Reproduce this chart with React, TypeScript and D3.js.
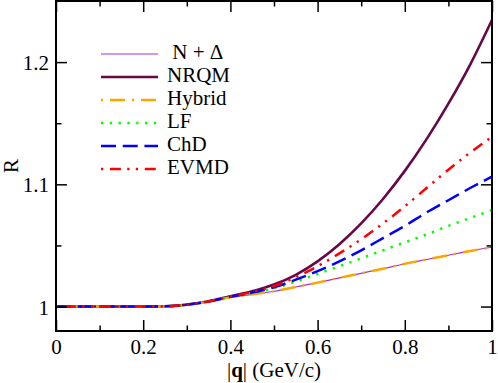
import React, { useEffect, useRef } from "react";
import * as d3 from "d3";

// |q| in GeV/c
const qValues = [0, 0.1, 0.2, 0.25, 0.3, 0.35, 0.4, 0.45, 0.5, 0.55, 0.6, 0.65, 0.7, 0.75, 0.8, 0.85, 0.9, 0.95, 1];

const nDelta = [1, 1, 1, 1.0002, 1.0015, 1.004, 1.0075, 1.01, 1.0125, 1.016, 1.0196, 1.0235, 1.0272, 1.031, 1.035, 1.0385, 1.042, 1.0455, 1.0485];
const nrqm = [1, 1, 1, 1.0002, 1.0016, 1.0044, 1.0085, 1.0125, 1.018, 1.026, 1.037, 1.051, 1.068, 1.088, 1.111, 1.137, 1.166, 1.198, 1.2345];
const hybrid = [1, 1, 1, 1.0002, 1.0015, 1.004, 1.0075, 1.01, 1.0125, 1.016, 1.0196, 1.0235, 1.0272, 1.031, 1.035, 1.0385, 1.042, 1.0455, 1.0485];
const lf = [1, 1, 1, 1.0002, 1.0015, 1.0042, 1.008, 1.0112, 1.015, 1.0205, 1.0267, 1.033, 1.0395, 1.046, 1.0525, 1.059, 1.066, 1.0725, 1.079];
const chd = [1, 1, 1, 1.0002, 1.0015, 1.0042, 1.008, 1.0115, 1.0158, 1.022, 1.029, 1.037, 1.046, 1.056, 1.066, 1.077, 1.087, 1.097, 1.1063];
const evmd = [1, 1, 1, 1.0002, 1.0015, 1.0042, 1.0082, 1.012, 1.0168, 1.024, 1.033, 1.0435, 1.055, 1.068, 1.082, 1.097, 1.112, 1.126, 1.139];

const seriesNames = ["\u00a0N + \u0394", "NRQM", "Hybrid", "LF", "ChD", "EVMD"];
const seriesValues = [nDelta, nrqm, hybrid, lf, chd, evmd];

const xMajor = [0, 0.2, 0.4, 0.6, 0.8, 1];
const xMinor = [0.1, 0.3, 0.5, 0.7, 0.9];
const yMajor = [1, 1.1, 1.2];
const yMinor = [1.05, 1.15];

const styles = [
  { color: "#a033e0", width: 1.2, dash: null, offset: 0 },
  { color: "#670748", width: 2.6, dash: null, offset: 0 },
  { color: "#ffa500", width: 2.5, dash: "2,7,15,7", offset: 0 },
  { color: "#00ff00", width: 2.5, dash: "2.3,6.5", offset: 0 },
  { color: "#0000ff", width: 2.5, dash: "15,6.7", offset: 0 },
  { color: "#ff0000", width: 2.5, dash: "11,6.3,2.3,6.3,2.3,6.7", offset: 26 },
];

const W = 498;
const H = 383;
const plot = { left: 56, right: 492, top: 1, bottom: 331 };
const font = "Liberation Serif, Times New Roman, DejaVu Serif, serif";

export default function App() {
  const ref = useRef<SVGSVGElement>(null);

  useEffect(() => {
    const svg = d3.select(ref.current);
    svg.selectAll("*").remove();

    const x = d3.scaleLinear().domain([0, 1]).range([plot.left, plot.right]);
    const y = d3.scaleLinear().domain([0.98, 1.25]).range([plot.bottom, plot.top]);

    // curves
    const line = d3.line<number>()
      .x((d, i) => x(qValues[i]))
      .y(d => y(d))
      .curve(d3.curveMonotoneX);

    seriesValues.forEach((vals, k) => {
      const s = styles[k];
      svg.append("path")
        .attr("d", line(vals))
        .attr("fill", "none")
        .attr("stroke", s.color)
        .attr("stroke-width", s.width)
        .attr("stroke-dasharray", s.dash)
        .attr("stroke-dashoffset", s.offset);
    });

    // axes, ticks inward on all four sides
    const addAxis = (axis, transform, labels) => {
      const g = svg.append("g")
        .attr("transform", transform)
        .call(axis)
        .attr("font-family", font)
        .attr("font-size", 21);
      g.select(".domain").remove();
      g.selectAll("line").attr("stroke", "#000").attr("stroke-width", 1.5);
      if (!labels) g.selectAll("text").remove();
      return g;
    };

    const fmt = d => String(d);

    const bottom = addAxis(
      d3.axisBottom(x).tickValues(xMajor).tickFormat(fmt).tickSizeInner(-11).tickSizeOuter(0),
      `translate(0,${plot.bottom})`, true);
    bottom.selectAll("text")
      .attr("y", 23).attr("dy", 0).attr("fill", "#000");
    addAxis(d3.axisBottom(x).tickValues(xMinor).tickSizeInner(-5.5).tickSizeOuter(0), `translate(0,${plot.bottom})`, false);
    addAxis(d3.axisTop(x).tickValues(xMajor).tickSizeInner(-11).tickSizeOuter(0), `translate(0,${plot.top})`, false);
    addAxis(d3.axisTop(x).tickValues(xMinor).tickSizeInner(-5.5).tickSizeOuter(0), `translate(0,${plot.top})`, false);

    const left = addAxis(
      d3.axisLeft(y).tickValues(yMajor).tickFormat(fmt).tickSizeInner(-11).tickSizeOuter(0),
      `translate(${plot.left},0)`, true);
    left.selectAll("text")
      .attr("x", -7).attr("dy", "0.36em").attr("fill", "#000");
    addAxis(d3.axisLeft(y).tickValues(yMinor).tickSizeInner(-5.5).tickSizeOuter(0), `translate(${plot.left},0)`, false);
    addAxis(d3.axisRight(y).tickValues(yMajor).tickSizeInner(-11).tickSizeOuter(0), `translate(${plot.right},0)`, false);
    addAxis(d3.axisRight(y).tickValues(yMinor).tickSizeInner(-5.5).tickSizeOuter(0), `translate(${plot.right},0)`, false);

    // frame
    svg.append("rect")
      .attr("x", plot.left).attr("y", plot.top)
      .attr("width", plot.right - plot.left).attr("height", plot.bottom - plot.top)
      .attr("fill", "none").attr("stroke", "#000").attr("stroke-width", 2);

    // axis titles
    const xt = svg.append("text")
      .attr("x", (plot.left + plot.right) / 2).attr("y", 377)
      .attr("text-anchor", "middle")
      .attr("font-family", font).attr("font-size", 21);
    xt.append("tspan").text("|");
    xt.append("tspan").attr("font-weight", "bold").text("q");
    xt.append("tspan").text("| (GeV/c)");

    svg.append("text")
      .attr("transform", `translate(18,${(plot.top + plot.bottom) / 2}) rotate(-90)`)
      .attr("text-anchor", "middle")
      .attr("font-family", font).attr("font-size", 21)
      .text("R");

    // legend
    const legend = svg.append("g").attr("transform", "translate(101,54)");
    seriesNames.forEach((name, k) => {
      const s = styles[k];
      const row = legend.append("g").attr("transform", `translate(0,${k * 23})`);
      row.append("line")
        .attr("x1", 0).attr("x2", 57).attr("y1", 0).attr("y2", 0)
        .attr("stroke", s.color)
        .attr("stroke-width", s.width)
        .attr("stroke-dasharray", s.dash)
        .attr("stroke-dashoffset", s.offset);
      row.append("text")
        .attr("x", 66).attr("y", 5)
        .attr("font-family", font).attr("font-size", 21)
        .text(name);
    });
  }, []);

  return (
    <svg
      ref={ref}
      width={W}
      height={H}
      style={{ position: "absolute", left: 0, top: 0, background: "#fff" }}
    />
  );
}
